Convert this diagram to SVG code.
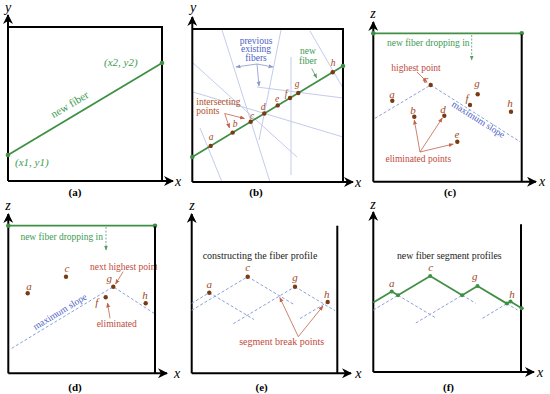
<svg xmlns="http://www.w3.org/2000/svg" width="550" height="394" viewBox="0 0 550 394" font-family="'Liberation Serif','DejaVu Serif',serif">
<defs>
<marker id="ma" viewBox="0 0 10 10" refX="9" refY="5" markerWidth="10" markerHeight="10" markerUnits="userSpaceOnUse" orient="auto"><path d="M0,0 L10,5 L0,10 L3,5 z" fill="#000"/></marker>
<marker id="mr" viewBox="0 0 10 10" refX="9" refY="5" markerWidth="5" markerHeight="5" markerUnits="userSpaceOnUse" orient="auto"><path d="M0,1 L10,5 L0,9 z" fill="#c0634a"/></marker>
<marker id="mb" viewBox="0 0 10 10" refX="9" refY="5" markerWidth="5" markerHeight="5" markerUnits="userSpaceOnUse" orient="auto"><path d="M0,1 L10,5 L0,9 z" fill="#8a98cc"/></marker>
<marker id="mg" viewBox="0 0 10 10" refX="9" refY="5" markerWidth="5" markerHeight="5" markerUnits="userSpaceOnUse" orient="auto"><path d="M0,1 L10,5 L0,9 z" fill="#5a9a66"/></marker>
<clipPath id="clipd"><rect x="0" y="195" width="157" height="199"/></clipPath>
</defs>
<style>
.ax{stroke:#000;stroke-width:2;fill:none}
.axa{stroke:#000;stroke-width:2;fill:none;marker-end:url(#ma)}
.gl{stroke:#3f8f45;stroke-width:1.8;fill:none}
.fb{stroke:#c3cceb;stroke-width:1;fill:none}
.bd{stroke:#8da0da;stroke-width:1;stroke-dasharray:3,2;fill:none}
.ra{stroke:#c0634a;stroke-width:0.8;fill:none;marker-end:url(#mr)}
.ba{stroke:#8a98cc;stroke-width:0.8;fill:none;marker-end:url(#mb)}
.ga{stroke:#5a9a66;stroke-width:0.8;fill:none;marker-end:url(#mg)}
.gd{stroke:#5a9a66;stroke-width:0.8;stroke-dasharray:2,1.5;fill:none;marker-end:url(#mg)}
.pt{fill:#7a3a12}
.gp{fill:#3f8f45}
text{font-family:"Liberation Serif","DejaVu Serif",serif}
.al{font-style:italic;font-size:14px;fill:#000;text-anchor:middle}
.pl{font-weight:bold;font-size:11px;fill:#000;text-anchor:middle}
.lt{font-style:italic;font-size:11px;fill:#a04a28;text-anchor:middle}
.lts{font-style:italic;font-size:9.5px;fill:#a04a28;text-anchor:middle}
.rt{font-size:9.5px;fill:#c04a3a;text-anchor:middle}
.gt{font-size:9.5px;fill:#3e9a52;text-anchor:middle}
.bt{font-size:9.5px;fill:#4a62c4;text-anchor:middle}
.kt{font-size:10px;fill:#222;text-anchor:middle}
</style>

<g id="panel-a">
<line class="axa" x1="8" y1="181" x2="8" y2="15"/>
<polyline class="ax" points="8,27 162,27 162,181"/>
<line class="axa" x1="8" y1="181" x2="173" y2="181"/>
<text class="al" x="8" y="12">y</text>
<text class="al" x="178" y="186">x</text>
<line class="gl" x1="8" y1="155" x2="162" y2="63"/>
<circle class="gp" cx="8" cy="155" r="2.3"/>
<circle class="gp" cx="162" cy="63" r="2.3"/>
<text class="gt" x="104" y="66" style="font-style:italic;font-size:11px;text-anchor:start">(x2, y2)</text>
<text class="gt" x="15" y="166" style="font-style:italic;font-size:11px;text-anchor:start">(x1, y1)</text>
<text class="gt" transform="translate(70,105) rotate(-30.9)" x="0" y="3" style="font-size:11px">new fiber</text>
<text class="pl" x="75" y="196">(a)</text>
</g>

<g id="panel-b">
<g id="existing-fibers">
<line class="fb" x1="222" y1="30" x2="270" y2="182"/>
<line class="fb" x1="281" y1="30" x2="259" y2="140"/>
<line class="fb" x1="291" y1="57" x2="291" y2="175"/>
<line class="fb" x1="193" y1="63" x2="297" y2="157"/>
<line class="fb" x1="257" y1="87" x2="343" y2="98"/>
<line class="fb" x1="310" y1="31" x2="343" y2="88"/>
<line class="fb" x1="193" y1="92" x2="343" y2="137"/>
<line class="fb" x1="200" y1="128" x2="222" y2="182"/>
</g>
<line class="axa" x1="192.3" y1="182" x2="192.3" y2="17"/>
<polyline class="ax" points="192.3,29 343,29 343,182"/>
<line class="axa" x1="192.3" y1="182" x2="353" y2="182"/>
<text class="al" x="193" y="12">y</text>
<text class="al" x="358" y="187">x</text>
<line class="gl" x1="192.3" y1="157" x2="343" y2="66"/>
<circle class="gp" cx="192.3" cy="157" r="2.3"/>
<circle class="gp" cx="343" cy="66" r="2.3"/>
<circle class="pt" cx="210.7" cy="145.9" r="2.2"/>
<circle class="pt" cx="232.7" cy="132.6" r="2.2"/>
<circle class="pt" cx="250.7" cy="121.7" r="2.2"/>
<circle class="pt" cx="264.3" cy="113.5" r="2.2"/>
<circle class="pt" cx="277.7" cy="105.4" r="2.2"/>
<circle class="pt" cx="290" cy="98" r="2.2"/>
<circle class="pt" cx="298.3" cy="93" r="2.2"/>
<circle class="pt" cx="332.7" cy="72.2" r="2.2"/>
<text class="lts" x="211" y="140">a</text>
<text class="lts" x="235" y="127">b</text>
<text class="lts" x="252" y="118.5">c</text>
<text class="lts" x="263" y="110">d</text>
<text class="lts" x="277" y="102">e</text>
<text class="lts" x="286" y="97">f</text>
<text class="lts" x="297" y="87">g</text>
<text class="lts" x="333" y="66">h</text>
<text class="bt" x="256" y="43.5">previous</text>
<text class="bt" x="256" y="52">existing</text>
<text class="bt" x="256" y="60.5">fibers</text>
<line class="ba" x1="257" y1="64" x2="236" y2="67"/>
<line class="ba" x1="257" y1="64" x2="273" y2="67"/>
<line class="ba" x1="257" y1="64" x2="259" y2="86"/>
<text class="gt" x="308" y="54">new</text>
<text class="gt" x="308" y="63.5">fiber</text>
<line class="ga" x1="311.7" y1="68.5" x2="316.7" y2="78"/>
<text class="rt" x="196.3" y="105" style="text-anchor:start;fill:#b0502a">intersecting</text>
<text class="rt" x="196.3" y="113.5" style="text-anchor:start;fill:#b0502a">points</text>
<line class="ra" x1="224.7" y1="113.5" x2="229.5" y2="128"/>
<line class="ra" x1="224.7" y1="113.5" x2="244.5" y2="118.5"/>
<text class="pl" x="256" y="196">(b)</text>
</g>

<g id="panel-c">
<line class="axa" x1="373.3" y1="181.7" x2="373.3" y2="22"/>
<line class="gl" x1="373.3" y1="33.3" x2="521.7" y2="33.3"/>
<circle class="gp" cx="373.3" cy="33.3" r="2.3"/>
<circle class="gp" cx="521.7" cy="33.3" r="2.3"/>
<line class="ax" x1="521.7" y1="34.5" x2="521.7" y2="181.7"/>
<line class="axa" x1="373.3" y1="181.7" x2="536" y2="181.7"/>
<text class="al" x="373" y="18">z</text>
<text class="al" x="542" y="186">x</text>
<text class="gt" x="428.3" y="46">new fiber dropping in</text>
<line class="gd" x1="471.7" y1="35" x2="471.7" y2="60"/>
<polyline class="bd" points="375,118.3 430.7,85 520,141.7"/>
<text class="bt" transform="translate(478.3,119.5) rotate(32.4)" x="0" y="3">maximum slope</text>
<circle class="pt" cx="392.3" cy="100.7" r="2.2"/>
<circle class="pt" cx="414.3" cy="116.7" r="2.2"/>
<circle class="pt" cx="430.7" cy="85" r="2.2"/>
<circle class="pt" cx="444.3" cy="115.7" r="2.2"/>
<circle class="pt" cx="457.3" cy="141.7" r="2.2"/>
<circle class="pt" cx="470" cy="105" r="2.2"/>
<circle class="pt" cx="477.7" cy="94.3" r="2.2"/>
<circle class="pt" cx="511" cy="111.7" r="2.2"/>
<text class="lt" x="392" y="98">a</text>
<text class="lt" x="413" y="113.5">b</text>
<text class="lt" x="426" y="82.5">c</text>
<text class="lt" x="443" y="112.5">d</text>
<text class="lt" x="457" y="138">e</text>
<text class="lt" x="467" y="102">f</text>
<text class="lt" x="477" y="87">g</text>
<text class="lt" x="510" y="106.5">h</text>
<text class="rt" x="416" y="71">highest point</text>
<line class="ra" x1="417" y1="72" x2="427" y2="82"/>
<text class="rt" x="418.3" y="162">eliminated points</text>
<line class="ra" x1="420" y1="152" x2="414.3" y2="120"/>
<line class="ra" x1="420" y1="152" x2="442.3" y2="118"/>
<line class="ra" x1="420" y1="152" x2="453.3" y2="144"/>
<text class="pl" x="450" y="196">(c)</text>
</g>

<g id="panel-d">
<line class="axa" x1="8.3" y1="373.3" x2="8.3" y2="214"/>
<line class="gl" x1="8.3" y1="225.7" x2="155" y2="225.7"/>
<circle class="gp" cx="8.3" cy="225.7" r="2.3"/>
<circle class="gp" cx="155" cy="225.7" r="2.3"/>
<line class="axa" x1="8.3" y1="373.3" x2="167" y2="373.3"/>
<text class="al" x="8" y="210">z</text>
<text class="al" x="177" y="378">x</text>
<text class="gt" x="61.7" y="239.5">new fiber dropping in</text>
<line class="gd" x1="106" y1="227" x2="106" y2="250"/>
<polyline class="bd" points="11.7,348.3 113.3,286.7 154,313.3"/>
<text class="bt" transform="translate(60,311.7) rotate(-31.2)" x="0" y="3">maximum slope</text>
<circle class="pt" cx="27.7" cy="293.3" r="2.2"/>
<circle class="pt" cx="66" cy="276.7" r="2.2"/>
<circle class="pt" cx="113.3" cy="286.7" r="2.2"/>
<circle class="pt" cx="105.7" cy="297.3" r="2.2"/>
<circle class="pt" cx="145.7" cy="303.3" r="2.2"/>
<text class="lt" x="29" y="289.5">a</text>
<text class="lt" x="67" y="271.5">c</text>
<text class="lt" x="109.3" y="282">g</text>
<text class="lt" x="96.7" y="306">f</text>
<text class="lt" x="145" y="298.5">h</text>
<text class="rt" x="90" y="269.5" clip-path="url(#clipd)" style="text-anchor:start">next highest point</text>
<line class="ra" x1="123.3" y1="271.5" x2="115.5" y2="284"/>
<text class="rt" x="116.7" y="327">eliminated</text>
<line class="ra" x1="110" y1="318.3" x2="107.5" y2="303"/>
<line class="ax" x1="155" y1="226.5" x2="155" y2="373.3"/>
<text class="pl" x="75" y="391">(d)</text>
</g>

<g id="panel-e">
<line class="axa" x1="191.7" y1="373.3" x2="191.7" y2="214"/>
<line class="ax" x1="337.3" y1="225.7" x2="337.3" y2="373.3"/>
<line class="axa" x1="191.7" y1="373.3" x2="351" y2="373.3"/>
<text class="al" x="192" y="210">z</text>
<text class="al" x="358.3" y="378">x</text>
<text class="kt" x="260" y="259">constructing the fiber profile</text>
<line class="bd" x1="191.7" y1="303.3" x2="209.3" y2="292.7"/>
<line class="bd" x1="209.3" y1="292.7" x2="254" y2="319.5"/>
<line class="bd" x1="191.7" y1="310.3" x2="247.7" y2="276.7"/>
<line class="bd" x1="247.7" y1="276.7" x2="293.3" y2="304.1"/>
<line class="bd" x1="233.3" y1="323.7" x2="295" y2="286.7"/>
<line class="bd" x1="295" y1="286.7" x2="335" y2="310.7"/>
<line class="bd" x1="300" y1="318.6" x2="327.7" y2="302"/>
<circle class="pt" cx="209.3" cy="292.7" r="2.2"/>
<circle class="pt" cx="247.7" cy="276.7" r="2.2"/>
<circle class="pt" cx="295" cy="286.7" r="2.2"/>
<circle class="pt" cx="327.7" cy="302" r="2.2"/>
<text class="lt" x="209.3" y="287.5">a</text>
<text class="lt" x="247.7" y="271">c</text>
<text class="lt" x="295" y="281">g</text>
<text class="lt" x="326.7" y="298">h</text>
<line class="ra" x1="298.3" y1="336.7" x2="279.8" y2="297.5"/>
<line class="ra" x1="298.3" y1="336.7" x2="323" y2="306"/>
<text class="rt" x="281.7" y="344.5" style="font-size:10px">segment break points</text>
<text class="pl" x="261.7" y="391">(e)</text>
</g>

<g id="panel-f">
<line class="axa" x1="373.3" y1="372" x2="373.3" y2="212"/>
<line class="ax" x1="521" y1="224.3" x2="521" y2="372"/>
<line class="axa" x1="373.3" y1="372" x2="534" y2="372"/>
<text class="al" x="373" y="209">z</text>
<text class="al" x="540" y="377">x</text>
<text class="kt" x="449.3" y="259" style="font-size:9.8px">new fiber segment profiles</text>
<line class="bd" x1="373.3" y1="310.1" x2="398" y2="295.3"/>
<line class="bd" x1="398" y1="295.3" x2="436.4" y2="318.3"/>
<line class="bd" x1="415.8" y1="323" x2="462.2" y2="295.2"/>
<line class="bd" x1="462.2" y1="295.2" x2="475.6" y2="303.2"/>
<line class="bd" x1="482.5" y1="318.3" x2="506.9" y2="303.6"/>
<line class="bd" x1="506.9" y1="303.6" x2="517.5" y2="310"/>
<polyline class="gl" points="373.3,302.5 391.7,291.5 398,295.3 430.2,276 462.2,295.2 477.5,286 506.9,303.6 510.5,301.5 521.7,308.2"/>
<circle class="gp" cx="391.7" cy="291.5" r="2"/>
<circle class="gp" cx="398" cy="295.3" r="2"/>
<circle class="gp" cx="430.2" cy="276" r="2"/>
<circle class="gp" cx="462.2" cy="295.2" r="2"/>
<circle class="gp" cx="477.5" cy="286" r="2"/>
<circle class="gp" cx="506.9" cy="303.6" r="2"/>
<circle class="gp" cx="510.5" cy="301.5" r="2"/>
<circle class="gp" cx="521.7" cy="308.2" r="2"/>
<text class="lt" x="391.7" y="287">a</text>
<text class="lt" x="430.7" y="271">c</text>
<text class="lt" x="474.7" y="279.5">g</text>
<text class="lt" x="512" y="297.5">h</text>
<text class="pl" x="448.5" y="391">(f)</text>
</g>
</svg>
